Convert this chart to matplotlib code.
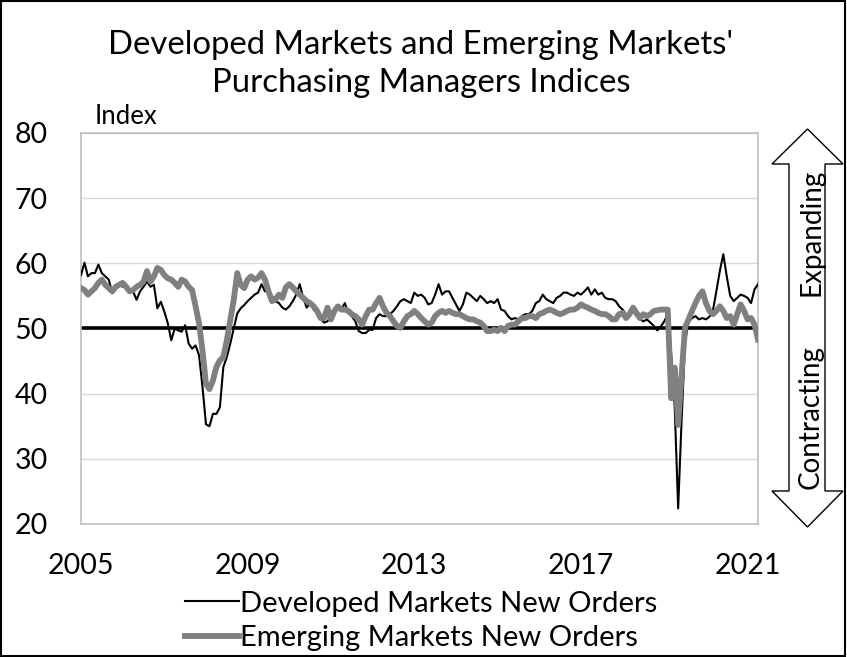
import matplotlib
matplotlib.use("Agg")

import numpy as np
import matplotlib.pyplot as plt
from matplotlib.patches import Polygon, Rectangle
from matplotlib.lines import Line2D

plt.rcParams["font.family"] = ["Lato", "DejaVu Sans"]

# monthly readings, Jan 2005 onward
developed = [
    58.2, 60.1, 58.0, 58.5, 58.5, 59.8, 58.5, 58.0, 57.5, 55.4,
    56.4, 57.0, 56.4, 56.7, 55.9, 55.7, 54.4, 55.7, 56.4, 57.2,
    56.4, 56.7, 53.1, 54.1, 52.6, 50.8, 48.2, 50.0, 49.7, 49.5,
    50.5, 47.7, 46.9, 47.4, 45.9, 41.0, 35.3, 35.0, 36.9, 36.9,
    37.9, 44.1, 45.6, 47.7, 50.0, 52.3, 53.1, 53.6,
    54.2, 54.7, 55.2, 55.5, 56.8, 55.7, 55.7, 55.0, 54.2, 53.9,
    53.2, 52.9, 53.4, 54.2, 55.2, 56.8, 54.7, 53.2, 53.9, 52.9,
    52.4, 51.6, 50.9, 51.1, 51.9, 52.9, 53.2, 52.9, 53.9, 52.4,
    51.9, 51.1, 49.6, 49.3, 49.3, 49.8, 49.8, 51.6, 52.2, 51.9,
    51.9, 52.2, 52.7, 53.4, 54.2, 54.5, 54.2, 53.9, 55.5, 55.0,
    55.2,
    54.7, 53.7, 53.9, 55.2, 56.8, 55.2, 55.7, 55.7, 54.7, 53.7,
    52.7, 53.7, 55.5, 55.2, 54.7, 54.2, 55.0, 54.5, 53.9, 54.2,
    53.9, 54.5, 52.9, 52.7, 51.9, 51.4, 51.6, 51.4, 51.9, 52.2,
    52.2, 52.7, 53.9, 54.2, 55.2, 54.5, 54.2, 53.9, 54.7, 55.0,
    55.5, 55.5, 55.2, 55.0, 55.5, 55.2, 55.7, 56.3, 55.2,
    56.0, 55.2, 55.5, 54.7, 54.5, 54.5, 54.2, 53.4, 52.9, 52.2,
    52.2, 52.7, 51.9, 51.4, 51.1, 51.4, 50.9, 50.4, 49.7, 50.3,
    51.1, 52.2, 46.0, 38.0, 22.4, 36.0, 48.0, 51.0, 51.6, 51.9,
    51.4, 51.6, 51.4, 51.8, 52.7, 55.7, 58.8, 61.4, 58.0, 55.0,
    54.2, 54.7, 55.2, 55.0, 54.7, 53.9, 56.0, 56.8,
]

emerging = [
    56.2, 55.9, 55.2, 55.7, 56.2, 57.0, 57.5, 56.7, 56.2, 55.7,
    56.4, 56.7, 57.0, 56.4, 55.7, 55.9, 56.4, 56.7, 57.2, 58.8,
    57.2, 58.0, 59.3, 59.0, 58.2, 57.7, 57.5, 57.0, 56.4, 57.5,
    57.2, 56.4, 55.9, 53.4, 50.8, 46.6, 41.5, 40.7, 42.0, 44.1,
    45.1, 45.6, 48.2, 51.3, 54.4, 58.5, 56.7, 56.2,
    57.5, 58.0, 57.5, 57.8, 58.5, 57.5, 55.7, 54.2, 54.5, 55.2,
    54.7, 56.3, 56.8, 56.3, 55.7, 55.2, 54.7, 54.2, 53.9, 53.4,
    52.7, 51.6, 51.6, 53.2, 51.4, 52.7, 53.4, 52.9, 52.9, 52.7,
    52.2, 51.9, 51.4, 50.6, 51.9, 52.9, 52.9, 53.9, 54.7, 53.4,
    52.4, 51.9, 51.1, 50.4, 50.1, 51.1, 51.9, 52.2, 52.7, 52.2,
    51.6,
    51.1, 50.6, 50.9, 51.9, 52.4, 52.7, 52.4, 52.7, 52.4, 52.2,
    52.2, 51.9, 51.6, 51.4, 51.4, 51.1, 50.9, 50.4, 49.6, 49.6,
    49.8, 49.6, 50.1, 49.6, 50.4, 50.6, 50.6, 51.1, 51.6, 51.6,
    51.9, 51.9, 51.6, 52.2, 52.4, 52.7, 52.9, 52.7, 52.4, 52.2,
    52.4, 52.7, 52.9, 52.9, 53.2, 53.7, 53.4, 53.2, 52.9,
    52.7, 52.4, 52.2, 52.2, 51.9, 51.4, 51.4, 52.2, 52.4, 51.6,
    52.2, 53.2, 52.4, 51.6, 52.2, 51.9, 52.2, 52.7, 52.8, 52.9,
    52.9, 52.9, 39.3, 44.0, 35.2, 43.0, 50.2, 51.4, 52.7, 53.9,
    55.0, 55.7, 53.9, 52.7, 52.2, 52.7, 53.4, 52.7, 51.6, 51.9,
    50.6, 52.2, 53.7, 52.7, 51.4, 51.6, 50.6, 48.3,
]

start_year = 2005
year_ticks = [2005, 2009, 2013, 2017, 2021]
y_ticks = [20, 30, 40, 50, 60, 70, 80]
threshold = 50

W, H = 847, 657
fig = plt.figure(figsize=(W / 100, H / 100), dpi=100)


def fx(px):
    return px / W


def fy(py):
    return 1 - py / H


ax = fig.add_axes([fx(81), fy(524), fx(758) - fx(81), fy(133) - fy(524)])

months = start_year + np.arange(len(developed)) / 12.0
ax.axhline(threshold, color="black", lw=2.6, zorder=2)
ax.plot(months, developed, color="black", lw=1.5, zorder=3,
        label="Developed Markets New Orders")
ax.plot(months, emerging, color="#808080", lw=4.2, zorder=4,
        solid_joinstyle="round", label="Emerging Markets New Orders")

ax.set_xlim(months[0], months[-1])
ax.set_ylim(20, 80)
ax.set_yticks(y_ticks)
ax.set_xticks(year_ticks)
ax.set_xticklabels([str(y) for y in year_ticks])
ax.tick_params(axis="both", length=0, labelsize=20.5)
ax.tick_params(axis="y", pad=24)
ax.tick_params(axis="x", pad=21)
ax.grid(axis="y", color="#D9D9D9", lw=1.0, zorder=1)
for sp in ax.spines.values():
    sp.set_color("#BFBFBF")
    sp.set_linewidth(1.2)

fig.text(0.497, fy(45), "Developed Markets and Emerging Markets'",
         ha="center", va="center", fontsize=23.7)
fig.text(0.497, fy(83), "Purchasing Managers Indices",
         ha="center", va="center", fontsize=23.7)
fig.text(fx(95), fy(116), "Index", ha="left", va="center", fontsize=18.5)

# double-headed arrow on the right
pts = [(807.5, 129), (843, 164), (825, 164), (825, 491), (843, 491),
       (807.5, 527), (772, 491), (789, 491), (789, 164), (772, 164)]
arrow = Polygon([(fx(x), fy(y)) for x, y in pts], closed=True,
                facecolor="white", edgecolor="black", lw=1.0,
                transform=fig.transFigure)
fig.add_artist(arrow)
fig.text(fx(811), fy(232), "Expanding", rotation=90, ha="center",
         va="center", fontsize=20)
fig.text(fx(811), fy(417), "Contracting", rotation=90, ha="center",
         va="center", fontsize=20)

handles = [Line2D([], [], color="black", lw=1.5),
           Line2D([], [], color="#808080", lw=4.2)]
fig.legend(handles, ["Developed Markets New Orders",
                     "Emerging Markets New Orders"],
           loc="center", bbox_to_anchor=(0.497, fy(621)), frameon=False,
           fontsize=21, handlelength=1.85, handletextpad=0.05,
           labelspacing=0.3, borderaxespad=0)

fig.add_artist(Rectangle((0.001, 0.002), 0.997, 0.996, fill=False,
                         edgecolor="black", lw=1.5,
                         transform=fig.transFigure))

fig.savefig("out.png", dpi=100)
